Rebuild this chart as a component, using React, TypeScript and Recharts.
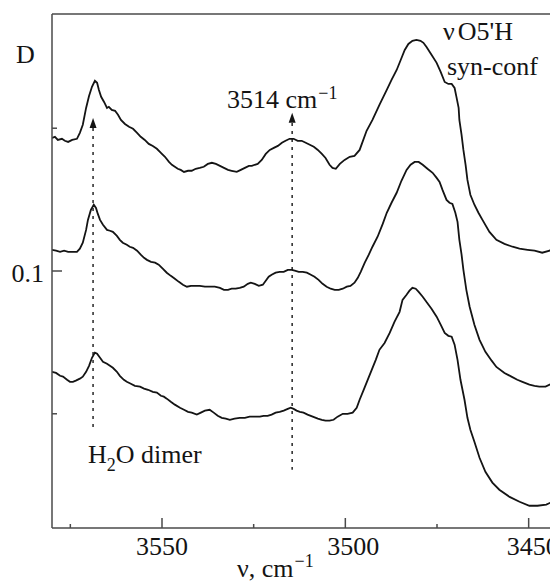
import { LineChart, Line, XAxis, YAxis, ReferenceLine, ReferenceDot } from "recharts";

// wavenumber, cm^-1 / optical density D (top to bottom)
const upperTrace: [number, number][] = [
  [3580.0, 0.1466], [3579.2, 0.147], [3578.4, 0.1459], [3577.3, 0.1463], [3576.5, 0.1456], [3575.6, 0.1452],
  [3574.5, 0.1459], [3573.2, 0.1463], [3572.4, 0.1484], [3571.6, 0.1512], [3570.7, 0.1571], [3569.9, 0.1613],
  [3569.1, 0.1645], [3568.3, 0.1666], [3567.7, 0.1659], [3567.2, 0.1634], [3566.6, 0.161], [3565.8, 0.1592],
  [3565.0, 0.1571], [3564.5, 0.1575], [3563.7, 0.1564], [3562.8, 0.1561], [3562.0, 0.1547], [3561.2, 0.1529],
  [3560.1, 0.1515], [3559.0, 0.1505], [3557.9, 0.1498], [3556.8, 0.1484], [3555.8, 0.147], [3554.7, 0.1459],
  [3553.6, 0.1445], [3552.5, 0.1438], [3551.4, 0.1428], [3550.3, 0.1414], [3549.2, 0.14], [3548.1, 0.1382],
  [3547.3, 0.1372], [3546.5, 0.1365], [3545.7, 0.1358], [3544.9, 0.1354], [3544.0, 0.1347], [3542.9, 0.1351],
  [3541.9, 0.1351], [3540.8, 0.1358], [3539.7, 0.1361], [3538.6, 0.1365], [3537.5, 0.1375], [3536.4, 0.1379],
  [3535.3, 0.1375], [3534.2, 0.1368], [3533.1, 0.1361], [3532.0, 0.1354], [3531.0, 0.1351], [3529.6, 0.1347],
  [3528.5, 0.1354], [3527.4, 0.1361], [3526.3, 0.1368], [3525.5, 0.1368], [3524.7, 0.1372], [3523.9, 0.1375],
  [3522.8, 0.1389], [3521.7, 0.141], [3520.6, 0.1424], [3519.5, 0.1431], [3518.4, 0.1438], [3517.3, 0.1449],
  [3516.3, 0.1456], [3515.2, 0.1463], [3514.1, 0.1463], [3513.0, 0.1456], [3511.9, 0.1456], [3510.8, 0.1449],
  [3509.7, 0.1442], [3508.6, 0.1435], [3507.5, 0.1424], [3506.4, 0.141], [3505.4, 0.1396], [3504.3, 0.1372],
  [3503.5, 0.1361], [3502.6, 0.1358], [3501.5, 0.1375], [3500.2, 0.1389], [3498.8, 0.14], [3497.5, 0.1403],
  [3496.1, 0.1424], [3495.3, 0.1452], [3494.2, 0.1491], [3492.6, 0.1529], [3490.7, 0.1582], [3488.7, 0.1634],
  [3487.4, 0.1669], [3486.0, 0.1704], [3484.9, 0.1739], [3483.8, 0.1774], [3482.8, 0.1795], [3481.7, 0.1806],
  [3480.6, 0.1809], [3479.5, 0.1806], [3478.7, 0.1799], [3477.9, 0.1785], [3476.5, 0.1757], [3475.1, 0.1729],
  [3474.0, 0.1697], [3472.9, 0.1662], [3471.9, 0.1655], [3471.0, 0.1655], [3470.2, 0.1641], [3469.7, 0.161],
  [3469.1, 0.1571], [3468.9, 0.1529], [3468.3, 0.1477], [3467.8, 0.1424], [3467.2, 0.1372], [3466.7, 0.1319],
  [3465.9, 0.1267], [3464.8, 0.1232], [3463.7, 0.1204], [3462.6, 0.1179], [3460.7, 0.1137], [3458.8, 0.1109],
  [3456.6, 0.1095], [3454.4, 0.1085], [3452.5, 0.1078], [3450.3, 0.1074], [3448.4, 0.1071], [3446.3, 0.1064],
  [3444.3, 0.1071], [3442.2, 0.1092], [3440.0, 0.1106],
];

const middleTrace: [number, number][] = [
  [3580.0, 0.1074], [3578.9, 0.1071], [3577.8, 0.1067], [3576.7, 0.1071], [3575.6, 0.1067], [3574.5, 0.1067],
  [3573.2, 0.1067], [3572.4, 0.1078], [3571.6, 0.1099], [3570.7, 0.1144], [3570.2, 0.1179], [3569.4, 0.1214],
  [3568.6, 0.1232], [3568.0, 0.1221], [3567.5, 0.12], [3566.9, 0.1179], [3566.1, 0.1162], [3565.0, 0.1144],
  [3564.2, 0.1141], [3563.4, 0.1137], [3562.3, 0.1123], [3561.5, 0.1109], [3560.7, 0.1099], [3559.6, 0.1092],
  [3558.8, 0.1085], [3557.9, 0.1081], [3556.8, 0.1071], [3555.8, 0.1057], [3554.9, 0.1046], [3554.1, 0.1039],
  [3553.0, 0.1032], [3551.9, 0.1029], [3550.9, 0.1022], [3549.8, 0.1008], [3548.7, 0.0994], [3547.6, 0.0983],
  [3546.5, 0.0973], [3545.4, 0.0962], [3544.3, 0.0952], [3543.2, 0.0945], [3542.1, 0.0948], [3541.0, 0.0948],
  [3539.7, 0.0948], [3538.3, 0.0945], [3537.0, 0.0945], [3535.6, 0.0945], [3534.2, 0.0941], [3533.1, 0.0934],
  [3532.0, 0.0934], [3531.0, 0.0938], [3529.9, 0.0938], [3528.8, 0.0941], [3527.7, 0.0945], [3526.6, 0.0955],
  [3525.8, 0.0959], [3524.7, 0.0955], [3523.6, 0.0948], [3522.5, 0.0952], [3521.7, 0.0966], [3520.9, 0.098],
  [3520.1, 0.0987], [3519.0, 0.0994], [3517.9, 0.0997], [3516.8, 0.0997], [3515.7, 0.1004], [3514.6, 0.1004],
  [3513.8, 0.1001], [3512.7, 0.0997], [3511.6, 0.0997], [3510.5, 0.0994], [3509.4, 0.0987], [3508.4, 0.098],
  [3507.3, 0.0969], [3506.2, 0.0955], [3505.1, 0.0945], [3504.0, 0.0938], [3502.9, 0.0934], [3501.8, 0.0934],
  [3500.7, 0.0938], [3499.6, 0.0945], [3498.6, 0.0948], [3497.5, 0.0959], [3496.6, 0.0976], [3495.8, 0.0997],
  [3494.7, 0.1029], [3493.6, 0.1057], [3492.6, 0.1085], [3491.2, 0.112], [3489.8, 0.1165], [3488.7, 0.1204],
  [3487.4, 0.1239], [3486.0, 0.1274], [3484.7, 0.1316], [3483.3, 0.1354], [3482.2, 0.1372], [3481.1, 0.1382],
  [3480.0, 0.1382], [3478.9, 0.1372], [3477.6, 0.1358], [3476.2, 0.1344], [3475.1, 0.1326], [3474.3, 0.1312],
  [3473.5, 0.1284], [3472.4, 0.1249], [3471.6, 0.1239], [3470.8, 0.1235], [3470.0, 0.1204], [3469.4, 0.1172],
  [3468.9, 0.1109], [3468.3, 0.1057], [3467.8, 0.1004], [3467.0, 0.0934], [3466.1, 0.0875], [3464.8, 0.0812],
  [3463.4, 0.0759], [3461.8, 0.0717], [3460.1, 0.0686], [3458.8, 0.0664], [3456.6, 0.0643], [3454.7, 0.063],
  [3453.1, 0.0619], [3451.7, 0.0612], [3449.8, 0.0602], [3448.4, 0.0598], [3447.1, 0.0595], [3445.4, 0.0595],
  [3443.8, 0.0605], [3442.2, 0.0612], [3440.0, 0.0619],
];

const lowerTrace: [number, number][] = [
  [3580.0, 0.0647], [3578.9, 0.0643], [3577.8, 0.0633], [3577.0, 0.063], [3575.9, 0.0619], [3575.1, 0.0612],
  [3574.3, 0.0612], [3573.5, 0.0616], [3572.4, 0.0623], [3571.6, 0.063], [3570.7, 0.0647], [3569.9, 0.0668],
  [3569.1, 0.0696], [3568.3, 0.0714], [3567.7, 0.071], [3566.9, 0.0696], [3566.1, 0.0682], [3565.0, 0.0675],
  [3564.2, 0.0668], [3563.4, 0.0661], [3562.3, 0.0647], [3561.5, 0.0633], [3560.4, 0.0619], [3559.6, 0.0612],
  [3558.5, 0.0605], [3557.4, 0.0598], [3556.0, 0.0595], [3554.9, 0.0588], [3553.8, 0.0584], [3552.5, 0.0577],
  [3551.4, 0.0574], [3550.3, 0.0563], [3549.5, 0.056], [3548.7, 0.0553], [3547.6, 0.0542], [3546.5, 0.0532],
  [3545.1, 0.0521], [3544.0, 0.0514], [3542.9, 0.0507], [3541.9, 0.0504], [3540.5, 0.0497], [3539.4, 0.0504],
  [3538.3, 0.0511], [3537.0, 0.0514], [3535.9, 0.0504], [3534.8, 0.0493], [3533.7, 0.0486], [3532.6, 0.0483],
  [3531.5, 0.0479], [3530.2, 0.0483], [3528.8, 0.0486], [3527.4, 0.0486], [3526.1, 0.049], [3524.7, 0.049],
  [3523.3, 0.049], [3522.3, 0.0493], [3521.2, 0.0493], [3520.1, 0.0497], [3519.0, 0.0504], [3517.9, 0.0507],
  [3516.8, 0.0511], [3515.7, 0.0517], [3514.9, 0.0521], [3514.1, 0.0517], [3513.3, 0.0511], [3512.4, 0.0507],
  [3511.4, 0.0504], [3510.3, 0.0497], [3508.9, 0.049], [3507.5, 0.0483], [3506.4, 0.0479], [3505.4, 0.0476],
  [3504.3, 0.0476], [3503.2, 0.0479], [3502.1, 0.049], [3500.7, 0.05], [3499.4, 0.05], [3498.0, 0.0504],
  [3496.9, 0.0521], [3496.1, 0.0549], [3495.0, 0.0584], [3493.9, 0.0619], [3492.8, 0.0654], [3491.7, 0.0689],
  [3490.7, 0.0724], [3489.3, 0.0748], [3487.9, 0.0783], [3486.6, 0.0822], [3485.2, 0.0857], [3484.4, 0.0899],
  [3483.3, 0.0917], [3482.5, 0.0931], [3481.7, 0.0941], [3480.8, 0.0938], [3480.0, 0.0927], [3478.9, 0.091],
  [3477.9, 0.0892], [3476.5, 0.0868], [3475.1, 0.084], [3474.0, 0.0812], [3472.9, 0.0783], [3471.9, 0.0773],
  [3471.0, 0.077], [3470.2, 0.0742], [3469.4, 0.0689], [3468.6, 0.0619], [3467.5, 0.0549], [3466.7, 0.0486],
  [3465.9, 0.0444], [3464.8, 0.0402], [3463.4, 0.0346], [3461.8, 0.0297], [3459.9, 0.0259], [3458.0, 0.0234],
  [3455.2, 0.0209], [3452.5, 0.0192], [3449.8, 0.0178], [3447.6, 0.0178], [3445.2, 0.0182], [3443.5, 0.0192],
  [3442.2, 0.0206], [3440.0, 0.022],
];

const xTicks = [3575, 3550, 3525, 3500, 3475, 3450];
const xLabelled = [3550, 3500, 3450];
const yTicks = [0.05, 0.1, 0.15];
const yLabelled = [0.1];

// dotted markers: H2O dimer band and the 3514 cm-1 band
const markers = [
  { nu: 3568.8, tip: 0.1536, base: 0.1501, end: 0.0451 },
  { nu: 3514.5, tip: 0.1554, base: 0.1518, end: 0.0304 },
];

const FONT = '"Liberation Serif", "Times New Roman", serif';
const INK = "#141414";
const AXIS = "#4a4a4a";
const labelShift: Record<number, number> = { 3500: 8, 3450: 4 };

const toRows = (pts: [number, number][]) => pts.map(([nu, d]) => ({ nu, d }));

function XTick({ x, y, payload }: any) {
  const v = payload.value;
  const major = xLabelled.includes(v);
  return (
    <g>
      <line x1={x} x2={x} y1={y} y2={y - (major ? 10 : 4)} stroke={AXIS} strokeWidth={1.5} />
      {major && (
        <text x={x + (labelShift[v] ?? 0)} y={y + 27} textAnchor="middle" fontFamily={FONT} fontSize={26} fill={INK}>
          {v}
        </text>
      )}
    </g>
  );
}

function YTick({ x, y, payload }: any) {
  const v = payload.value;
  const major = yLabelled.includes(v);
  return (
    <g>
      <line x1={x} x2={x + (major ? 10 : 5)} y1={y} y2={y} stroke={AXIS} strokeWidth={1.5} />
      {major && (
        <text x={x - 8} y={y + 11} textAnchor="end" fontFamily={FONT} fontSize={26} fill={INK}>
          {v}
        </text>
      )}
    </g>
  );
}

const ArrowHead = (p: any) => (
  <path d={`M${p.cx},${p.cy} L${p.cx - 3.5},${p.cy + 10} L${p.cx + 3.5},${p.cy + 10} Z`} fill={INK} />
);

export default function App() {
  const traces = [upperTrace, middleTrace, lowerTrace];
  return (
    <div style={{ position: "relative", width: 558, height: 584, margin: "-8px 0 0 -8px", overflow: "hidden", background: "#fff" }}>
      <LineChart width={558} height={584} margin={{ top: 14, right: 0, bottom: 0, left: 0 }}>
        <XAxis
          dataKey="nu"
          type="number"
          domain={[3442, 3580]}
          reversed
          allowDataOverflow
          ticks={xTicks}
          height={56}
          tickSize={0}
          tickMargin={0}
          tickLine={false}
          tick={XTick}
          axisLine={{ stroke: AXIS, strokeWidth: 1.5 }}
        />
        <YAxis
          type="number"
          domain={[0.01, 0.19]}
          allowDataOverflow
          ticks={yTicks}
          width={52}
          tickSize={0}
          tickMargin={0}
          tickLine={false}
          tick={YTick}
          axisLine={{ stroke: AXIS, strokeWidth: 1.5 }}
        />
        <ReferenceLine y={0.19} stroke={AXIS} strokeWidth={1.5} ifOverflow="visible" />
        {markers.map((m) => (
          <ReferenceLine
            key={`l${m.nu}`}
            segment={[{ x: m.nu, y: m.base }, { x: m.nu, y: m.end }]}
            stroke="#333"
            strokeWidth={1.6}
            strokeDasharray="3 5"
          />
        ))}
        {markers.map((m) => (
          <ReferenceDot key={`a${m.nu}`} x={m.nu} y={m.tip} r={0} shape={ArrowHead} />
        ))}
        {traces.map((t, i) => (
          <Line
            key={i}
            data={toRows(t)}
            dataKey="d"
            type="linear"
            stroke={INK}
            strokeWidth={1.8}
            dot={false}
            activeDot={false}
            isAnimationActive={false}
          />
        ))}
      </LineChart>
      <svg width={558} height={584} style={{ position: "absolute", left: 0, top: 0, pointerEvents: "none" }} fontFamily={FONT} fill={INK}>
        <text x={16} y={63} fontSize={26}>D</text>
        <text x={227} y={108} fontSize={26}>
          3514 cm<tspan fontSize={18} dx={1} dy={-9}>−1</tspan>
        </text>
        <text x={443} y={40} fontSize={26}>
          ν<tspan dx={3}>O5'H</tspan>
        </text>
        <text x={447} y={75} fontSize={26}>syn-conf</text>
        <text x={88} y={463} fontSize={26}>
          H<tspan fontSize={18} dy={8}>2</tspan>
          <tspan dy={-8}>O dimer</tspan>
        </text>
        <text x={237} y={577} fontSize={26}>
          ν, cm<tspan fontSize={18} dx={1} dy={-10}>−1</tspan>
        </text>
      </svg>
    </div>
  );
}
